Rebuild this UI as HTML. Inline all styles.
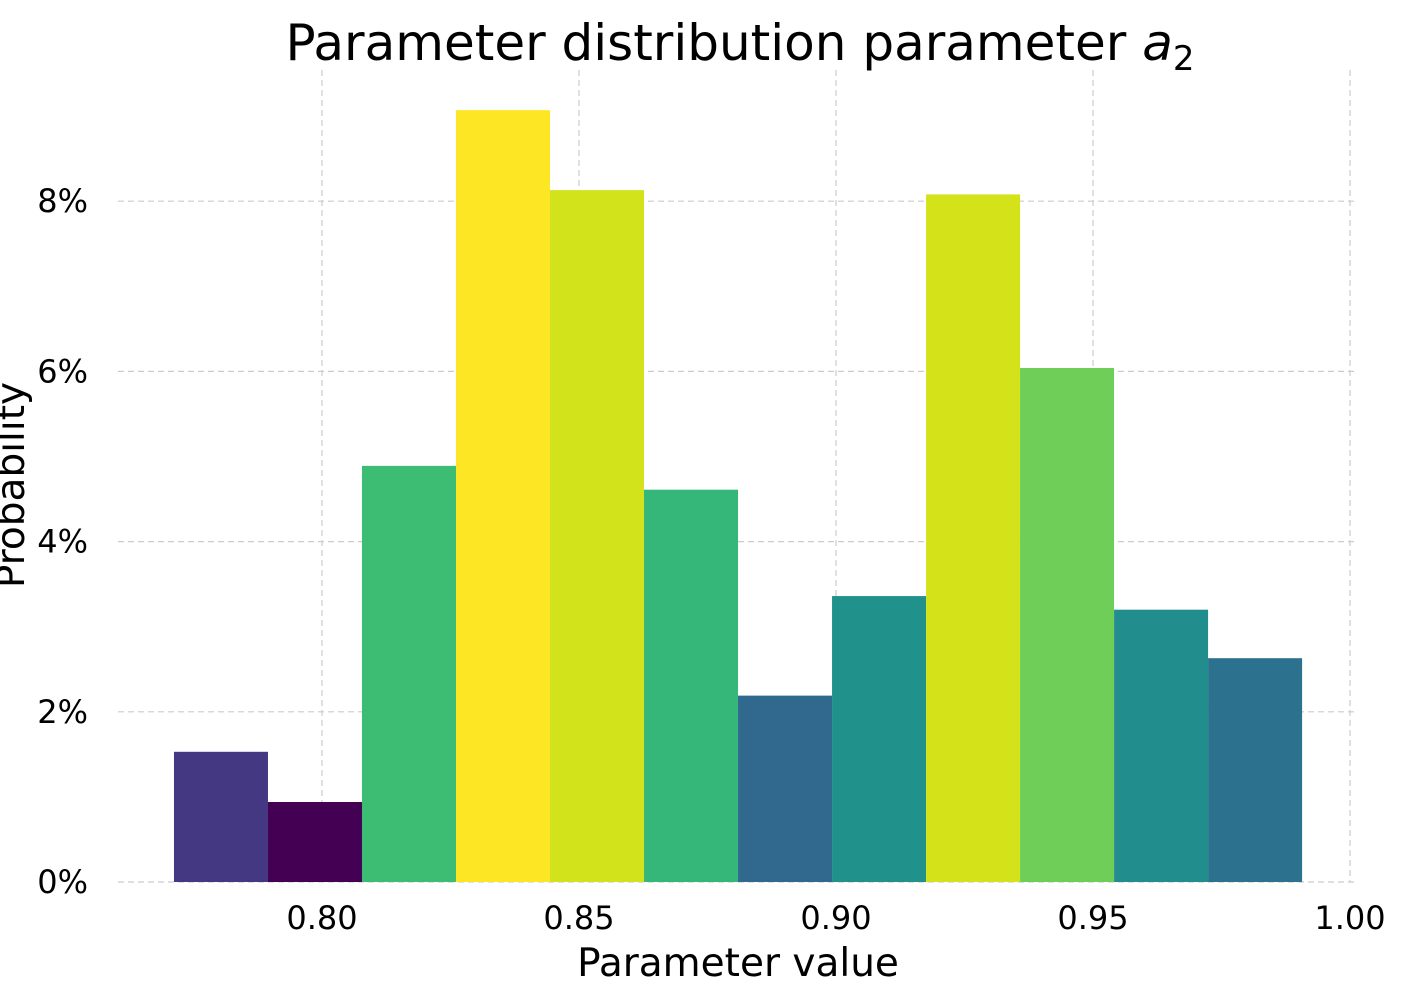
<!DOCTYPE html>
<html><head><meta charset="utf-8"><style>
body{margin:0;background:#fff;}
svg{display:block;font-family:"DejaVu Sans","Liberation Sans",sans-serif;}
</style></head><body>
<svg id="chart" width="1402" height="1002">
<text x="740" y="60" font-size="50" text-anchor="middle" fill="#000">Parameter distribution parameter <tspan font-style="italic">a</tspan><tspan font-size="34" dy="10">2</tspan></text>
<g id="grid"></g><g id="bars"></g><g id="ticks"></g>
<text x="738" y="976" font-size="39" text-anchor="middle">Parameter value</text>
<text transform="translate(24,485) rotate(-90)" font-size="39" text-anchor="middle">Probability</text>
</svg>
<script>
const binStart = 0.7712;
const binWidth = 0.01829;
const probs = [1.53, 0.94, 4.89, 9.07, 8.13, 4.61, 2.19, 3.36, 8.08, 6.04, 3.20, 2.63];
const colors = ["#453882","#440154","#3dbc74","#fde725","#d2e21b","#35b779","#31688e","#21918c","#d4e21a","#6ece58","#218e8d","#2c728e"];
const xTicks = [0.80, 0.85, 0.90, 0.95, 1.00];
const yTicks = [0, 2, 4, 6, 8];
const NS = "http://www.w3.org/2000/svg";
function X(v){return 322 + (v-0.80)*5140;}
function Y(p){return 882 - p*85.1;}
const grid=document.getElementById('grid'), bars=document.getElementById('bars'), ticks=document.getElementById('ticks');
yTicks.forEach(t=>{
  const l=document.createElementNS(NS,'line');
  l.setAttribute('x1',118);l.setAttribute('x2',1356);l.setAttribute('y1',Y(t));l.setAttribute('y2',Y(t));
  l.setAttribute('stroke','#ccc');l.setAttribute('stroke-dasharray','6,4');l.setAttribute('stroke-width','1.2');
  
  
  grid.appendChild(l);
  const tx=document.createElementNS(NS,'text');
  tx.setAttribute('x',88);tx.setAttribute('y',Y(t)+11);tx.setAttribute('font-size','32');tx.setAttribute('text-anchor','end');
  tx.textContent=t+'%';
  
  
  ticks.appendChild(tx);
});
xTicks.forEach(t=>{
  const l=document.createElementNS(NS,'line');
  l.setAttribute('x1',X(t));l.setAttribute('x2',X(t));l.setAttribute('y1',70);l.setAttribute('y2',882);
  l.setAttribute('stroke','#ccc');l.setAttribute('stroke-dasharray','6,4');l.setAttribute('stroke-width','1.2');
  
  
  grid.appendChild(l);
  const tx=document.createElementNS(NS,'text');
  tx.setAttribute('x',X(t));tx.setAttribute('y',929);tx.setAttribute('font-size','32');tx.setAttribute('text-anchor','middle');
  tx.textContent=t.toFixed(2);
  
  
  ticks.appendChild(tx);
});
probs.forEach((p,i)=>{
  const x0=X(binStart+i*binWidth), x1=X(binStart+(i+1)*binWidth);
  const r=document.createElementNS(NS,'rect');
  r.setAttribute('x',x0);r.setAttribute('width',x1-x0);r.setAttribute('y',Y(p));r.setAttribute('height',Y(0)-Y(p));
  r.setAttribute('fill',colors[i]);
  
  
  bars.appendChild(r);
});
</script>
</body></html>
